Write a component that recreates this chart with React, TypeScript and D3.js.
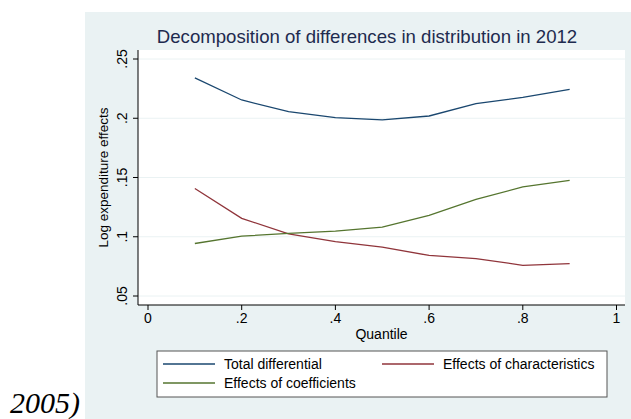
import React from "react";
import * as d3 from "d3";

const quantiles = [0.1, 0.2, 0.3, 0.4, 0.5, 0.6, 0.7, 0.8, 0.9];
const totalDifferential = [0.234, 0.2154, 0.2055, 0.2005, 0.1986, 0.2019, 0.2123, 0.2176, 0.2244];
const effectsCharacteristics = [0.1407, 0.1155, 0.1025, 0.0958, 0.0912, 0.0842, 0.0816, 0.0759, 0.0774];
const effectsCoefficients = [0.0943, 0.1005, 0.1028, 0.1047, 0.1081, 0.1181, 0.1316, 0.142, 0.1475];
const xTicks = [0, 0.2, 0.4, 0.6, 0.8, 1];
const xTickLabels = ["0", ".2", ".4", ".6", ".8", "1"];
const yTicks = [0.05, 0.1, 0.15, 0.2, 0.25];
const yTickLabels = [".05", ".1", ".15", ".2", ".25"];

const seriesNames = ["Total differential", "Effects of characteristics", "Effects of coefficients"];
const seriesColors = ["#1a476f", "#90353b", "#55752f"];

export default function App() {
  const W = 631, H = 419;
  const x = d3.scaleLinear().domain([0, 1]).range([148, 616.5]);
  const y = d3.scaleLinear().domain([0.05, 0.25]).range([296, 59]);
  const plotLeft = 138, plotRight = 625, plotTop = 50, plotBottom = 305;
  const font = "'Liberation Sans', Arial, sans-serif";
  const allSeries = [totalDifferential, effectsCharacteristics, effectsCoefficients];
  const line = d3.line<number>().x((_, i) => x(quantiles[i])).y((d) => y(d));

  const legendItems = [
    { name: seriesNames[0], color: seriesColors[0], lx: 163, ly: 364 },
    { name: seriesNames[1], color: seriesColors[1], lx: 382, ly: 364 },
    { name: seriesNames[2], color: seriesColors[2], lx: 163, ly: 383 },
  ];

  return (
    <svg width={W} height={H} style={{ position: "absolute", left: 0, top: 0 }} fontFamily={font}>
      <rect x={0} y={0} width={W} height={H} fill="#ffffff" />
      <rect x={85} y={12} width={W - 85} height={H - 12} fill="#eaf2f3" />
      <text x={10} y={413} fontFamily="'Liberation Serif', 'Times New Roman', serif" fontStyle="italic" fontSize={30} fill="#000">2005)</text>
      <text x={367} y={43} textAnchor="middle" fontSize={18.6} fill="#1e2b4f">Decomposition of differences in distribution in 2012</text>
      <rect x={plotLeft} y={plotTop} width={plotRight - plotLeft} height={plotBottom - plotTop} fill="#ffffff" />
      {yTicks.map((t) => (
        <line key={"g" + t} x1={plotLeft} x2={plotRight} y1={y(t)} y2={y(t)} stroke="#eaf2f3" strokeWidth={1} />
      ))}
      {allSeries.map((s, i) => (
        <path key={i} d={line(s) || ""} fill="none" stroke={seriesColors[i]} strokeWidth={1.3} />
      ))}
      <line x1={plotLeft} x2={plotLeft} y1={plotTop} y2={plotBottom} stroke="#000" strokeWidth={1} />
      <line x1={plotLeft} x2={plotRight} y1={plotBottom} y2={plotBottom} stroke="#000" strokeWidth={1} />
      {yTicks.map((t, i) => (
        <g key={"y" + t}>
          <line x1={plotLeft - 5} x2={plotLeft} y1={y(t)} y2={y(t)} stroke="#000" />
          <text transform={`translate(127,${y(t)}) rotate(-90)`} textAnchor="middle" fontSize={14} fill="#000">{yTickLabels[i]}</text>
        </g>
      ))}
      {xTicks.map((t, i) => (
        <g key={"x" + t}>
          <line x1={x(t)} x2={x(t)} y1={plotBottom} y2={plotBottom + 5} stroke="#000" />
          <text x={x(t)} y={323} textAnchor="middle" fontSize={14} fill="#000">{xTickLabels[i]}</text>
        </g>
      ))}
      <text x={(plotLeft + plotRight) / 2} y={339} textAnchor="middle" fontSize={14} fill="#000">Quantile</text>
      <text transform={`translate(108,${(plotTop + plotBottom) / 2}) rotate(-90)`} textAnchor="middle" fontSize={13.5} fill="#000">Log expenditure effects</text>
      <rect x={157} y={351} width={450} height={46} fill="#ffffff" stroke="#555" strokeWidth={1} />
      {legendItems.map((it) => (
        <g key={it.name}>
          <line x1={it.lx} x2={it.lx + 52} y1={it.ly} y2={it.ly} stroke={it.color} strokeWidth={1.3} />
          <text x={it.lx + 61} y={it.ly + 5} fontSize={14} fill="#000">{it.name}</text>
        </g>
      ))}
    </svg>
  );
}
